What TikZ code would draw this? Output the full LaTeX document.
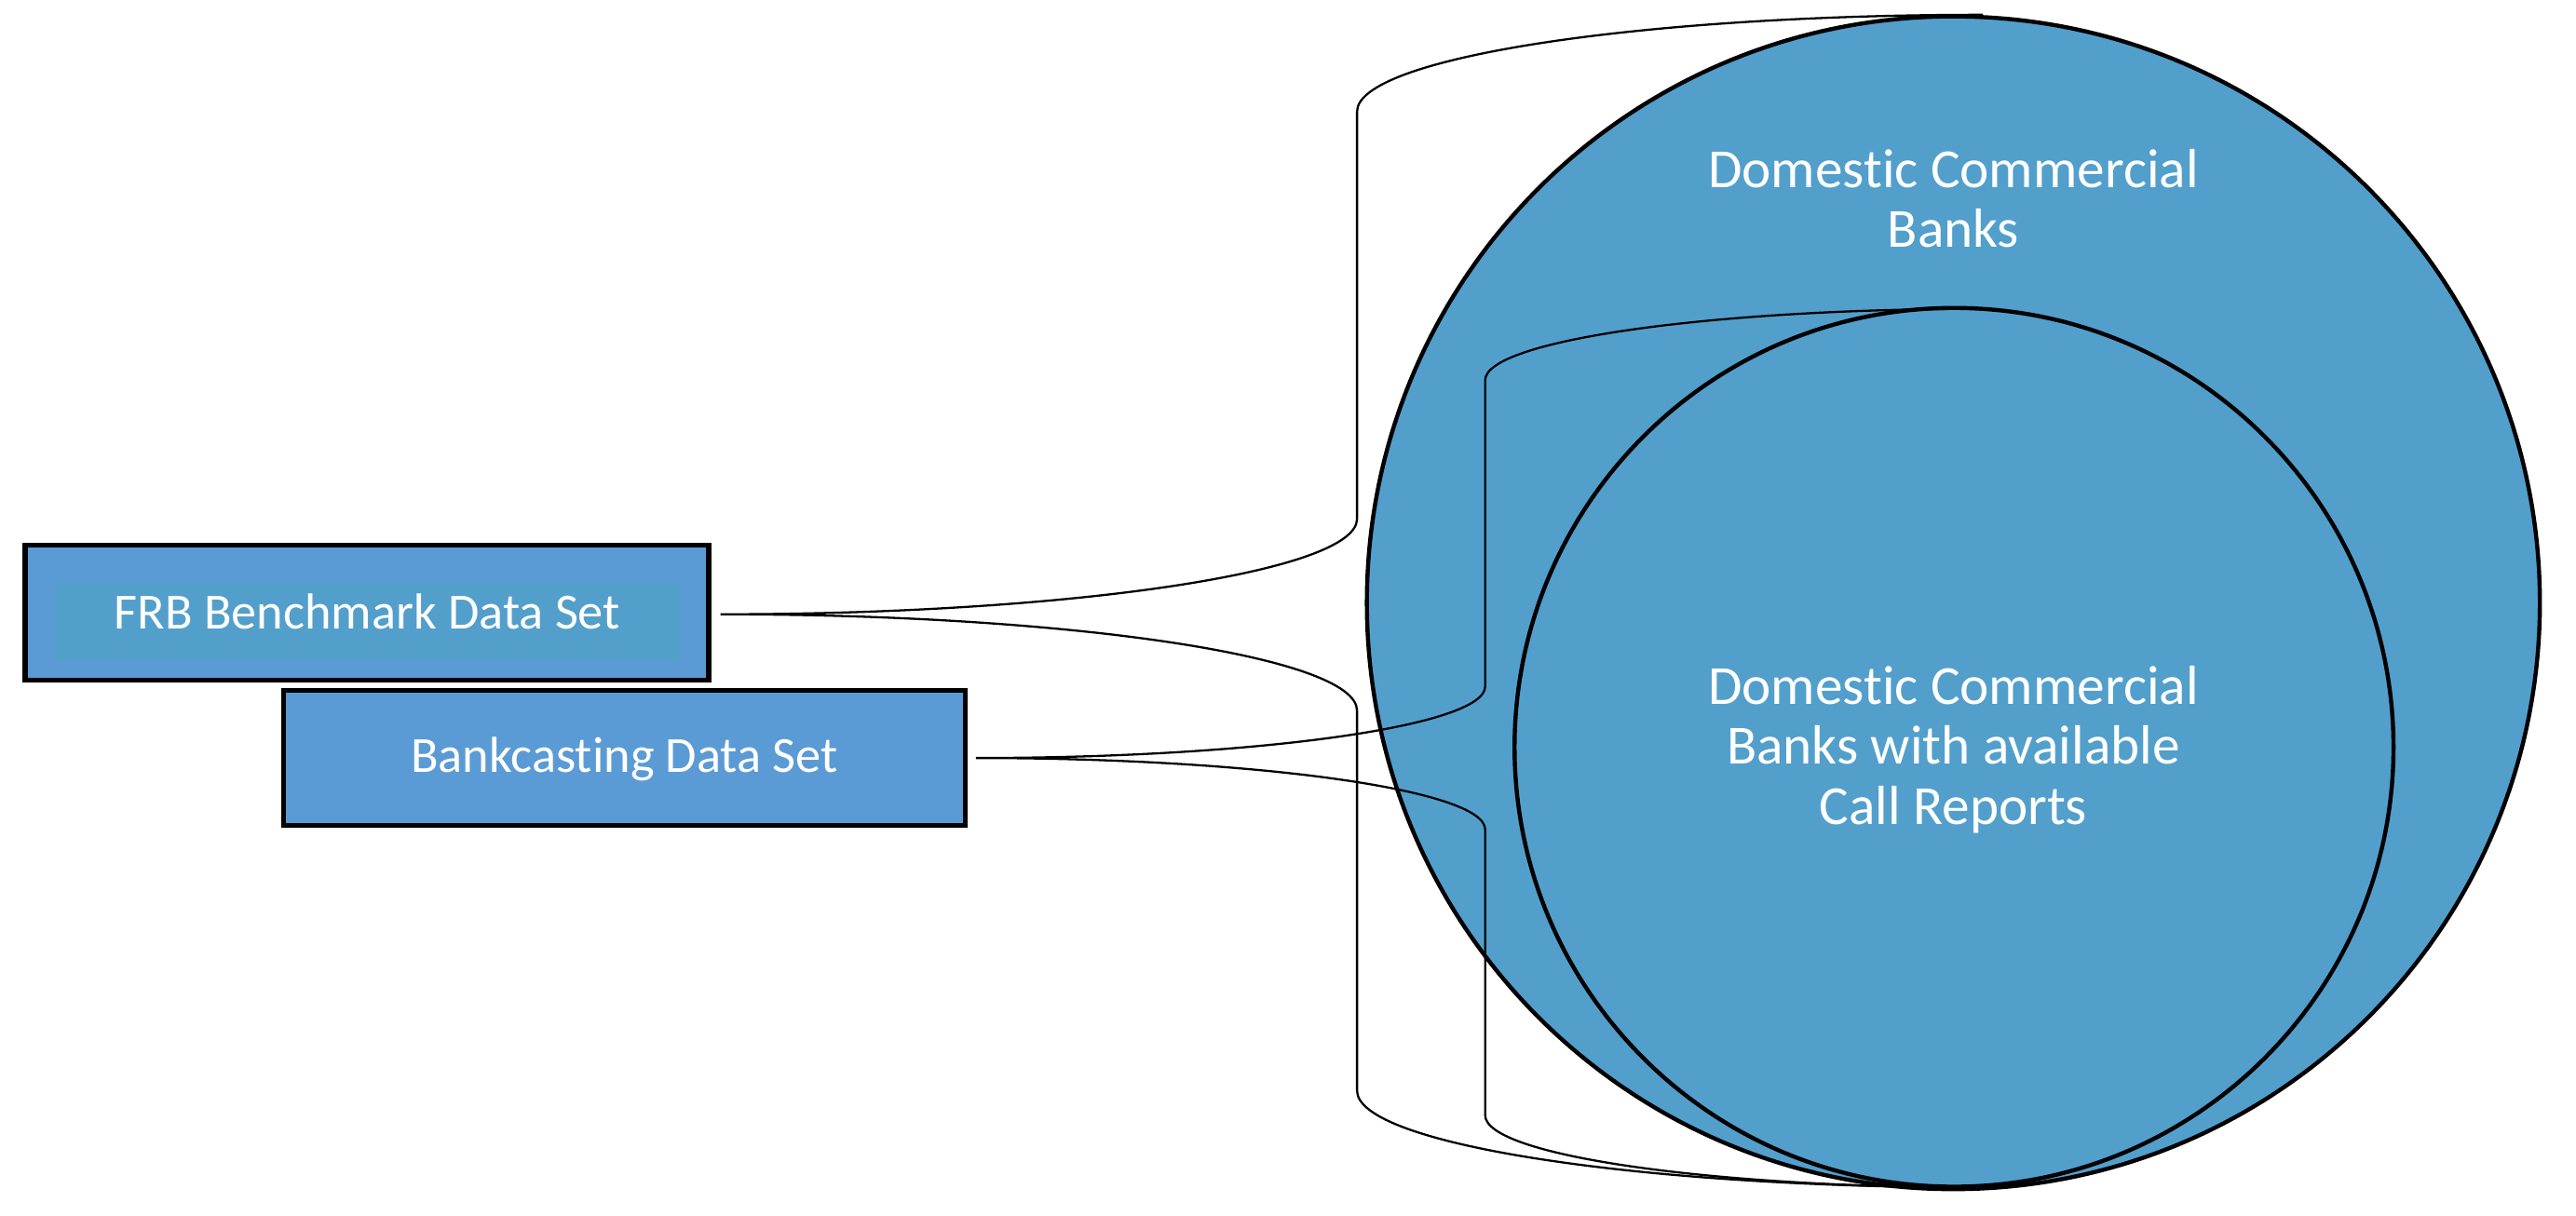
\documentclass[tikz,border=0pt]{standalone}
\usepackage{fontspec}
\setmainfont{Carlito}[RawFeature=-liga, RawFeature=-dlig, RawFeature=-hlig, RawFeature=-clig, RawFeature=-calt]
\definecolor{boxblue}{HTML}{5B9BD5}
\definecolor{innerblue}{HTML}{539FCB}
\definecolor{circblue}{HTML}{529FCC}
\begin{document}
\begin{tikzpicture}[x=1pt,y=-1pt,
  setcircle/.style={circle, draw=black, line width=2.5pt, fill=circblue, inner sep=0pt},
  databox/.style={rectangle, draw=black, line width=3pt, fill=boxblue, inner sep=0pt},
  circtext/.style={text=white, align=center, inner sep=0pt, font=\fontsize{33.6}{36.5}\selectfont},
  boxtext/.style={text=white, inner sep=0pt, font=\fontsize{30.8}{36}\selectfont},
  bracestyle/.style={draw=black, line width=1.3pt}]
\useasboundingbox (0,0) rectangle (1568,740.35);
% circles
\node[setcircle, minimum size=714pt] (dcb) at (1189,367) {};
\node[setcircle, minimum size=535pt] (dcbcr) at (1189.4,455) {};
\node[circtext] (dcbtxt) at (1189,121) {Domestic Commercial\\Banks};
\node[circtext] (dcbcrtxt) at (1189,456.3) {Domestic Commercial\\Banks with available\\Call Reports};
% boxes
\node[databox, minimum width=416.1pt, minimum height=82.1pt] (frb) at (223.35,373.1) {};
\fill[innerblue] (33.8,354.7) rectangle (413.7,402.5);
\node[boxtext, anchor=base] (frbtxt) at (223.6,383) {FRB Benchmark Data Set};
\node[databox, minimum width=414.9pt, minimum height=82.1pt] (bank) at (379.95,461.55) {};
\node[boxtext, anchor=base] (banktxt) at (380,470.5) {Bankcasting Data Set};
% braces
\coordinate (t1) at (438.5,374);
\coordinate (t1top) at (1207,9);
\coordinate (t1bot) at (1207,723);
\draw[bracestyle] (t1top) .. controls (996.6,9) and (826,35.4) .. (826,68) -- (826,316)
  .. controls (826,348) and (652.3,374) .. (t1)
  .. controls (652.3,374) and (826,400) .. (826,432.6) -- (826,664)
  .. controls (826,696.6) and (996.6,723) .. (t1bot);
\coordinate (t2) at (594,461.5);
\coordinate (t2top) at (1207,188);
\coordinate (t2bot) at (1207,723);
\draw[bracestyle] (t2top) .. controls (1039.7,188) and (904,207.5) .. (904,231.5) -- (904,418)
  .. controls (904,442) and (765.2,461.5) .. (t2)
  .. controls (765.2,461.5) and (904,481) .. (904,505) -- (904,679)
  .. controls (904,703.3) and (1039.7,723) .. (t2bot);
\end{tikzpicture}
\end{document}
